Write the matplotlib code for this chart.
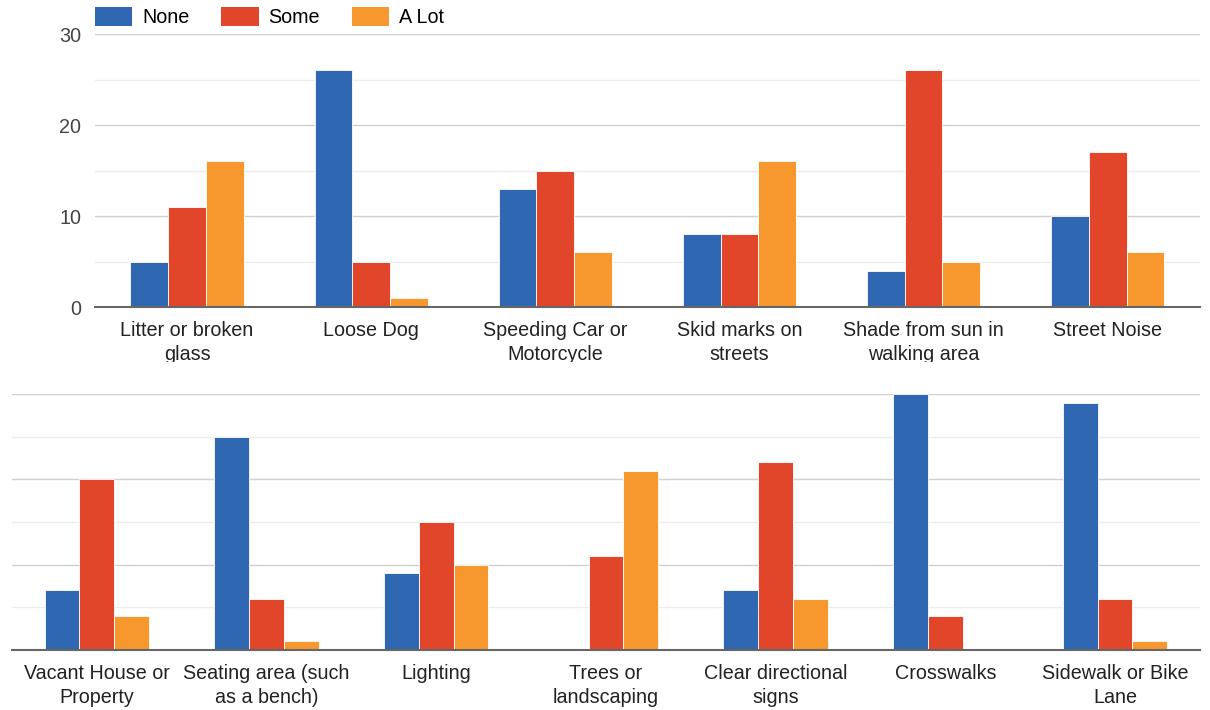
import matplotlib
matplotlib.use("Agg")
import matplotlib.pyplot as plt
import numpy as np
from matplotlib.transforms import Bbox, TransformedBbox
from matplotlib.patches import Patch

plt.rcParams['font.family'] = ['Liberation Sans', 'DejaVu Sans']

series = ["None", "Some", "A Lot"]
colors = ["#2f67b2", "#e2462a", "#f7982f"]

# upper chart: hazards
top_labels = ["Litter or broken\nglass", "Loose Dog", "Speeding Car or\nMotorcycle",
              "Skid marks on\nstreets", "Shade from sun in\nwalking area", "Street Noise"]
top_none = [5, 26, 13, 8, 4, 10]
top_some = [11, 5, 15, 8, 26, 17]
top_alot = [16, 1, 6, 16, 5, 6]

# lower chart: amenities
bot_labels = ["Vacant House or\nProperty", "Seating area (such\nas a bench)", "Lighting",
              "Trees or\nlandscaping", "Clear directional\nsigns", "Crosswalks",
              "Sidewalk or Bike\nLane"]
bot_none = [7, 25, 9, 0, 7, 30, 29]
bot_some = [20, 6, 15, 11, 22, 4, 6]
bot_alot = [4, 1, 10, 21, 6, 0, 1]

FS = 14.2

fig = plt.figure(figsize=(12.1, 7.1), dpi=100)
ax1 = fig.add_axes([0.0785, 0.5676, 0.913, 0.3845])
ax2 = fig.add_axes([0.0099, 0.0845, 0.9818, 0.3606])


def draw_panel(ax, labels, values, show_y):
    x = np.arange(len(labels))
    w = 0.205
    for k, vals in enumerate(values):
        ax.bar(x + (k - 1) * w, vals, width=w, color=colors[k],
               edgecolor="white", linewidth=0.6, zorder=3)
    ax.set_xlim(-0.5, len(labels) - 0.5)
    ax.set_ylim(0, 30)
    ax.set_yticks([0, 10, 20, 30])
    ax.set_yticks([5, 15, 25], minor=True)
    ax.grid(axis="y", which="major", color="#d0d0d0", linewidth=1.0, zorder=0)
    ax.grid(axis="y", which="minor", color="#ececec", linewidth=1.0, zorder=0)
    ax.set_xticks(x)
    ax.set_xticklabels(labels, fontsize=FS, color="#222222", linespacing=1.32)
    ax.tick_params(axis="x", length=0, pad=10)
    ax.tick_params(axis="y", which="both", length=0, pad=10,
                   labelsize=FS, labelcolor="#444444", labelleft=show_y)
    for s in ["top", "right", "left"]:
        ax.spines[s].set_visible(False)
    ax.spines["bottom"].set_color("#666666")
    ax.spines["bottom"].set_linewidth(1.5)
    ax.spines["bottom"].set_zorder(4)


draw_panel(ax1, top_labels, [top_none, top_some, top_alot], True)
draw_panel(ax2, bot_labels, [bot_none, bot_some, bot_alot], False)

# the upper panel's second label line is cut off at the panel edge
clip = TransformedBbox(Bbox([[0, 0.49], [1, 1]]), fig.transFigure)
for lbl in ax1.get_xticklabels():
    lbl.set_clip_box(clip)
    lbl.set_clip_on(True)

handles = [Patch(facecolor=c, edgecolor="none") for c in colors]
fig.legend(handles, series, loc="upper left", bbox_to_anchor=(0.0785, 0.99),
           ncol=3, frameon=False, fontsize=FS, handlelength=1.9,
           handleheight=1.1, handletextpad=0.5, columnspacing=1.6,
           borderpad=0, borderaxespad=0)

fig.savefig("out.png", dpi=100, facecolor="white")
